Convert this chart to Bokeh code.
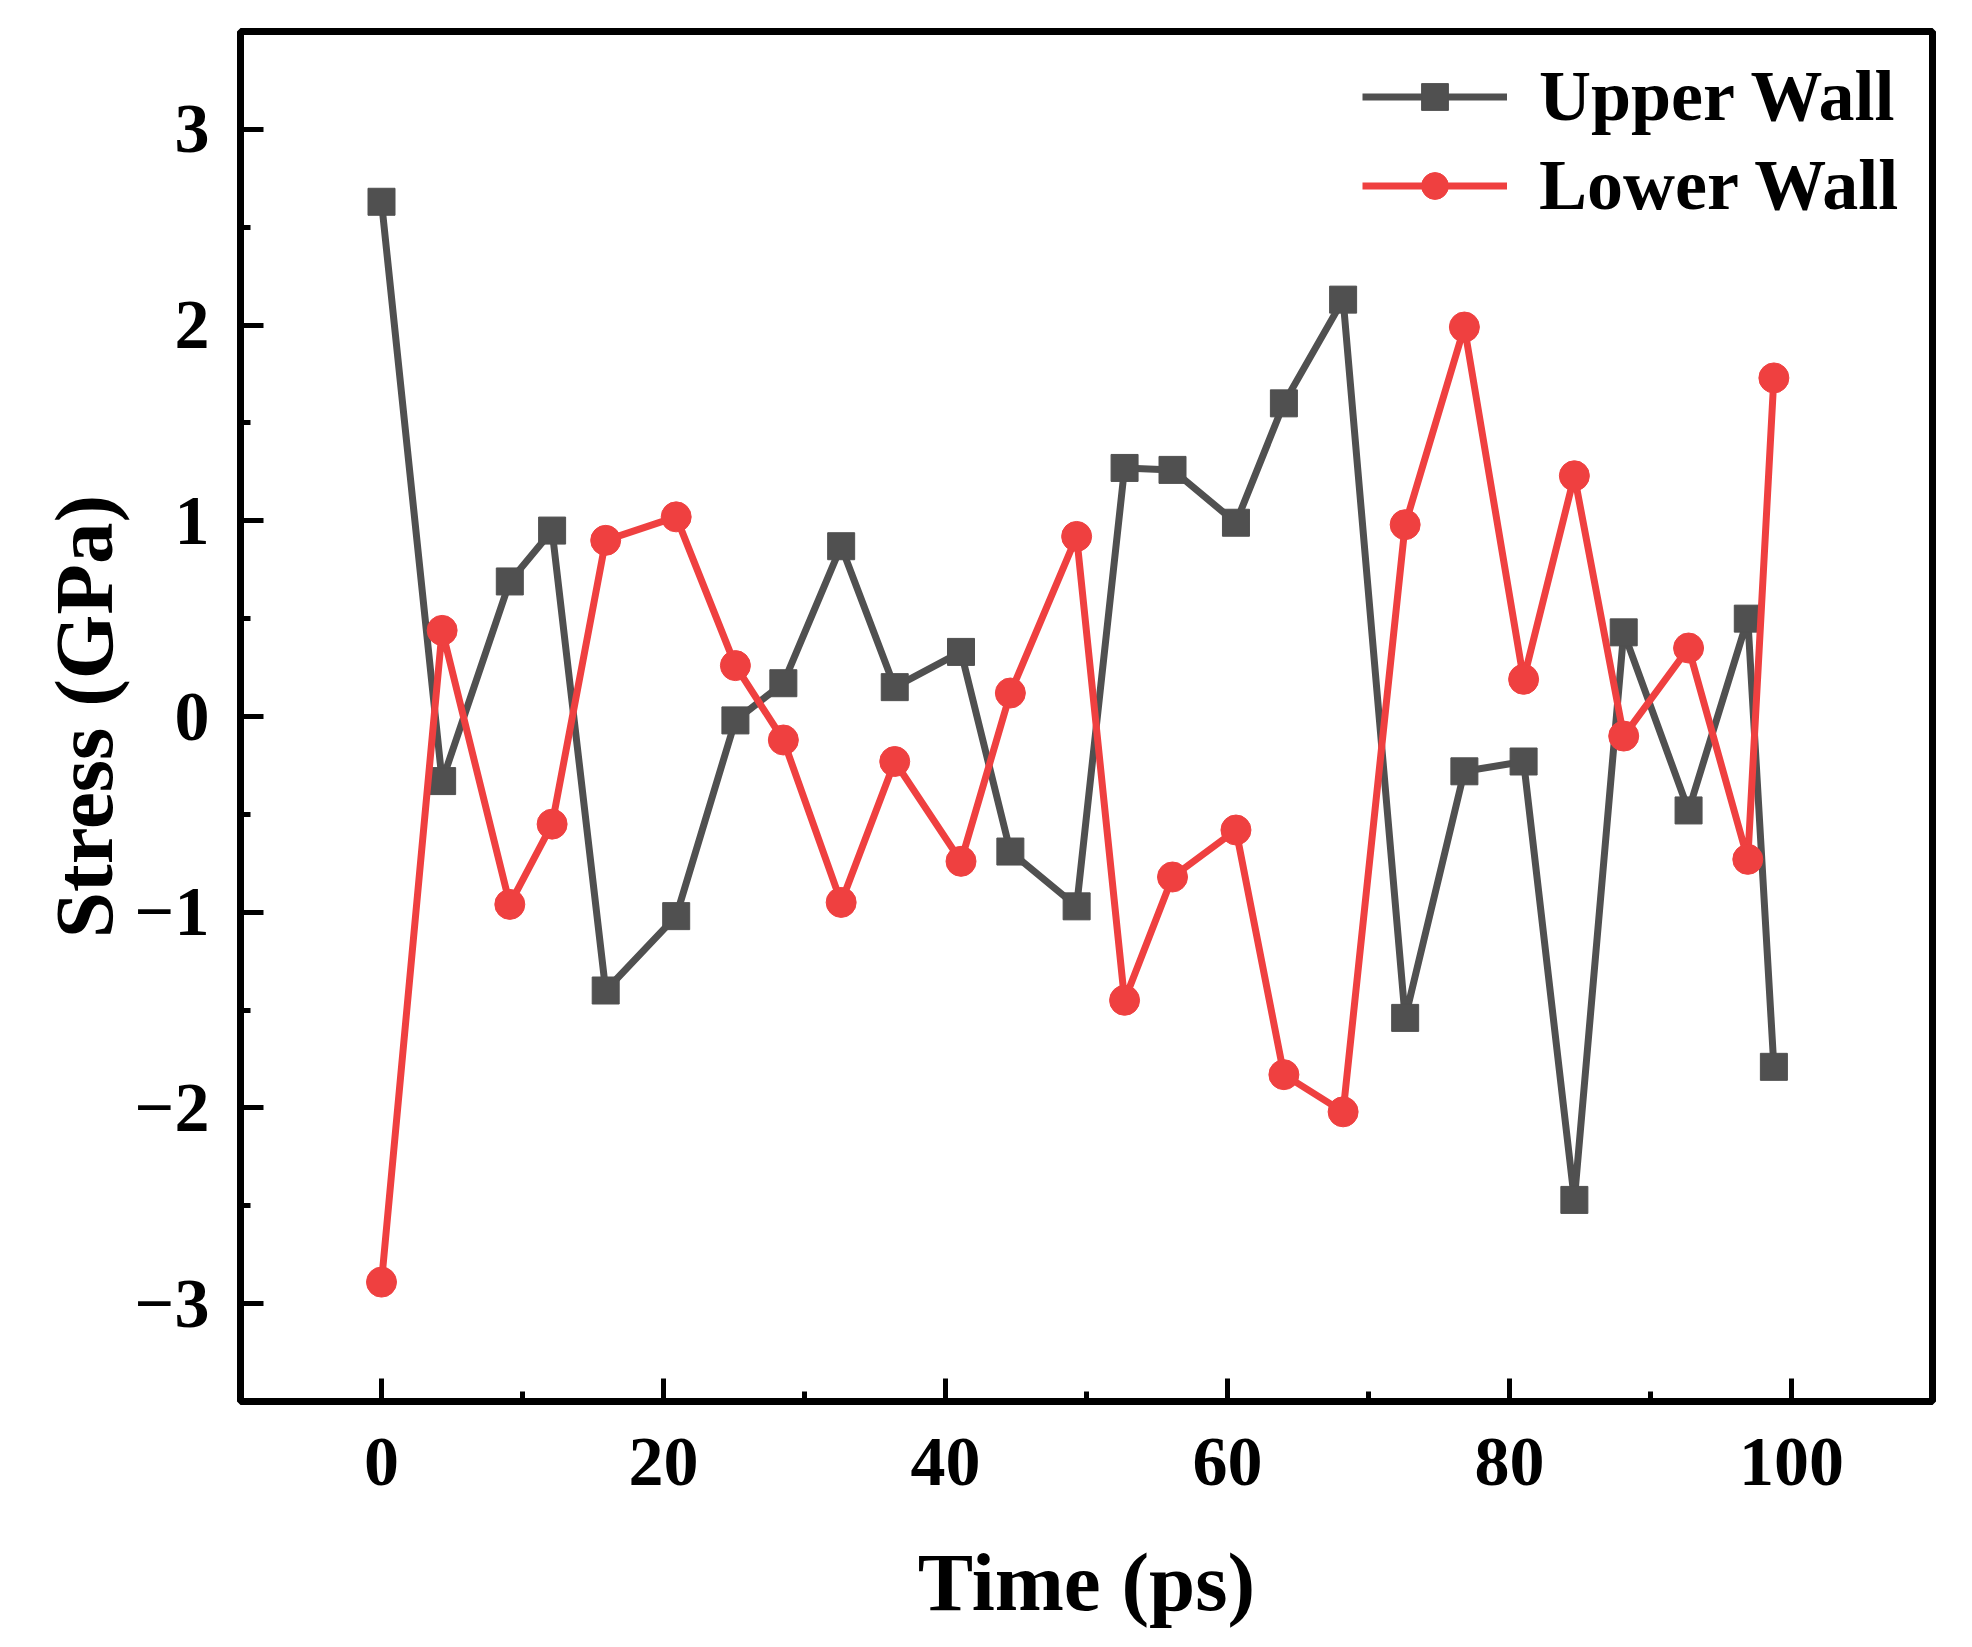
from bokeh.plotting import figure
from bokeh.models import SingleIntervalTicker, Range1d
from bokeh.embed import file_html
from bokeh.resources import INLINE

# data
time_ps = [0, 4.3, 9.1, 12.1, 15.9, 20.9, 25.1, 28.5, 32.6, 36.4, 41.1, 44.6, 49.3,
           52.7, 56.1, 60.6, 64.0, 68.2, 72.6, 76.8, 81.0, 84.6, 88.1, 92.7, 96.9, 98.75]
upper_wall = [2.63, -0.33, 0.69, 0.95, -1.40, -1.02, -0.02, 0.17, 0.87, 0.15, 0.33, -0.69, -0.97,
              1.27, 1.26, 0.99, 1.60, 2.13, -1.54, -0.28, -0.23, -2.47, 0.43, -0.48, 0.50, -1.79]
lower_wall = [-2.89, 0.44, -0.96, -0.55, 0.90, 1.02, 0.26, -0.12, -0.95, -0.23, -0.74, 0.12, 0.92,
              -1.45, -0.82, -0.58, -1.83, -2.02, 0.98, 1.99, 0.19, 1.23, -0.10, 0.35, -0.73, 1.73]
y_labels = {-3: "\u22123", -2: "\u22122", -1: "\u22121", 0: "0", 1: "1", 2: "2", 3: "3"}

GRAY = "#505050"
RED = "#EF4040"
FONT = "Liberation Serif"

p = figure(width=1956, height=1630, output_backend="svg", toolbar_location=None,
           x_range=Range1d(-10, 110), y_range=Range1d(-3.5, 3.5),
           x_axis_label="Time (ps)", y_axis_label="Stress (GPa)",
           min_border_left=240, min_border_right=24, min_border_top=31, min_border_bottom=150)
p.grid.visible = False
p.outline_line_color = "black"
p.outline_line_width = 7

# upper wall (gray squares)
p.line(time_ps, upper_wall, line_color=GRAY, line_width=7, legend_label="Upper Wall")
p.scatter(time_ps, upper_wall, marker="square", size=27, fill_color=GRAY, line_color=GRAY,
          legend_label="Upper Wall")
# lower wall (red circles), drawn on top
p.line(time_ps, lower_wall, line_color=RED, line_width=7, legend_label="Lower Wall")
p.scatter(time_ps, lower_wall, marker="circle", size=30, fill_color=RED, line_color=RED,
          legend_label="Lower Wall")

p.xaxis.ticker = SingleIntervalTicker(interval=20, num_minor_ticks=2)
p.yaxis.ticker = SingleIntervalTicker(interval=1, num_minor_ticks=2)
p.yaxis.major_label_overrides = y_labels

for ax in (p.xaxis, p.yaxis):
    ax.axis_line_color = None
    ax.major_tick_in = 23
    ax.major_tick_out = 0
    ax.minor_tick_in = 10
    ax.minor_tick_out = 0
    ax.major_tick_line_width = 5
    ax.minor_tick_line_width = 5
    ax.major_tick_line_color = "black"
    ax.minor_tick_line_color = "black"
    ax.major_label_text_font = FONT
    ax.major_label_text_font_style = "bold"
    ax.major_label_text_font_size = "70px"
    ax.major_label_text_color = "black"
    ax.axis_label_text_font = FONT
    ax.axis_label_text_font_style = "bold"
    ax.axis_label_text_font_size = "83px"
    ax.axis_label_text_color = "black"
p.xaxis.major_label_standoff = 37
p.yaxis.major_label_standoff = 31
p.xaxis.axis_label_standoff = 48
p.yaxis.axis_label_standoff = 2

p.legend.location = "top_right"
p.legend.border_line_color = None
p.legend.background_fill_alpha = 0
p.legend.padding = 0
p.legend.margin = 24
p.legend.spacing = 6
p.legend.glyph_width = 145
p.legend.glyph_height = 67
p.legend.label_standoff = 32
p.legend.label_width = 369
p.legend.label_text_font = FONT
p.legend.label_text_font_style = "bold"
p.legend.label_text_font_size = "72px"
p.legend.label_text_color = "black"

open("out.html", "w").write(file_html(p, INLINE))
